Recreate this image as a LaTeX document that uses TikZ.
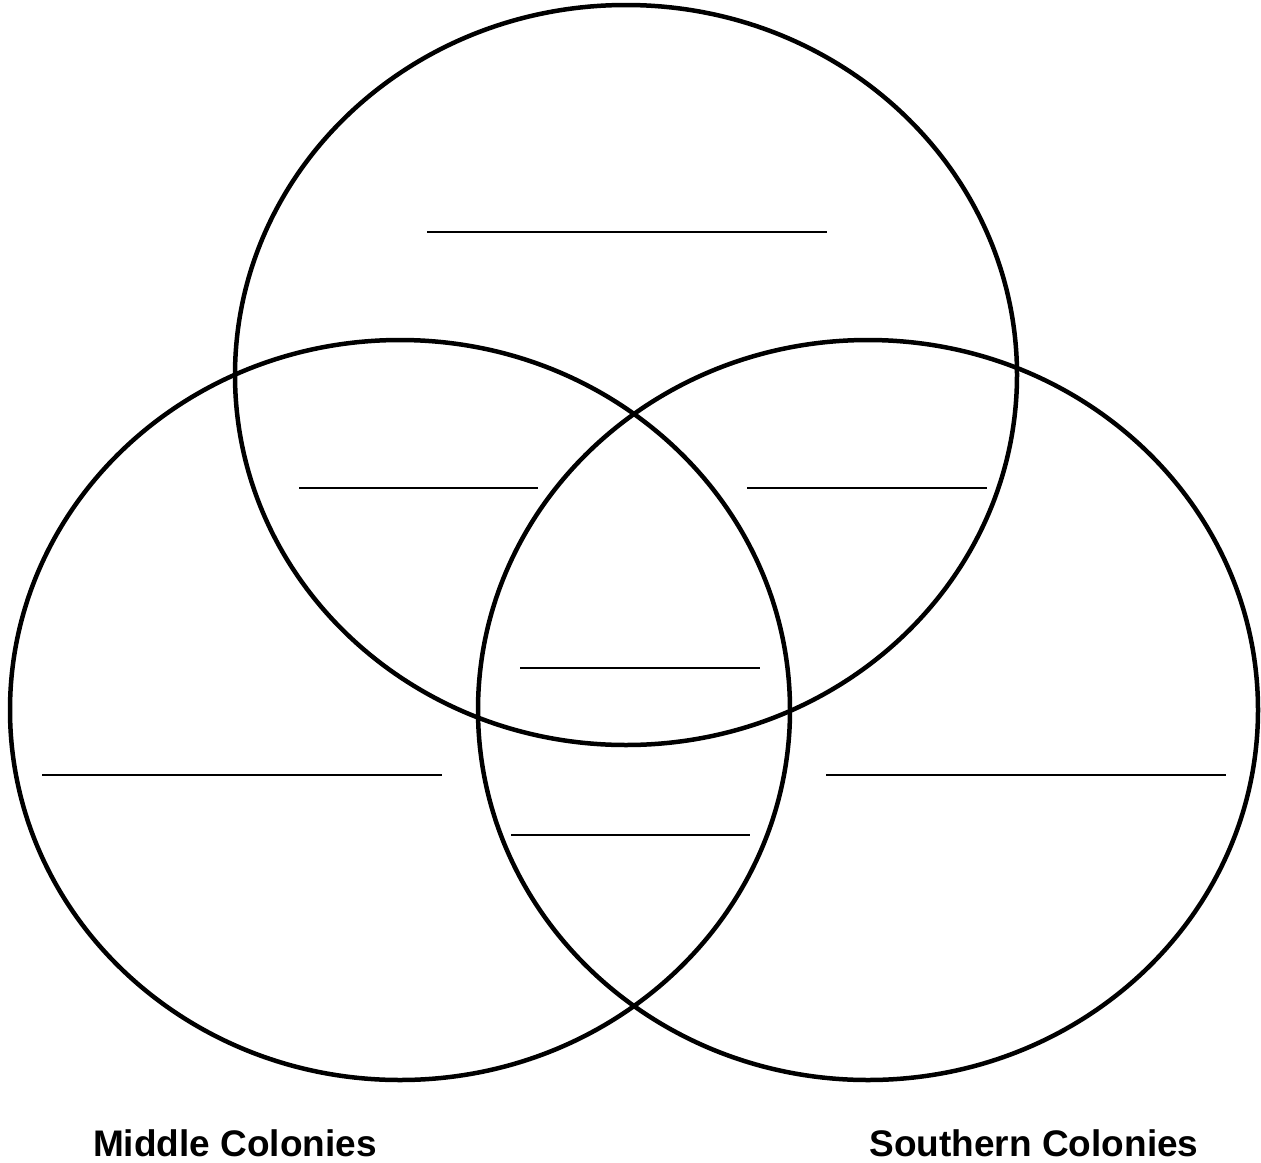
\documentclass[tikz,border=0pt]{standalone}
\usepackage{fontspec}
\setmainfont{Liberation Sans}
\begin{document}
\begin{tikzpicture}[x=1pt,y=-1pt,
  ring/.style={draw=black,line width=4.5pt},
  blank/.style={draw=black,line width=2.2pt},
  lbl/.style={font=\fontsize{37}{40}\selectfont\bfseries,inner sep=0pt}]
\useasboundingbox[fill=white] (0,0) rectangle (1261,1162);
\draw[ring] (626,375) ellipse [x radius=391, y radius=370];
\draw[ring] (400,710) ellipse [x radius=390, y radius=370];
\draw[ring] (868,710) ellipse [x radius=390, y radius=370];
\coordinate (t1) at (427,232); \coordinate (t2) at (827,232);
\coordinate (lm1) at (299,488); \coordinate (lm2) at (538,488);
\coordinate (rm1) at (747,488); \coordinate (rm2) at (987,488);
\coordinate (c1) at (520,668); \coordinate (c2) at (760,668);
\coordinate (b1) at (511,835); \coordinate (b2) at (750,835);
\coordinate (l1) at (42,775); \coordinate (l2) at (442,775);
\coordinate (r1) at (826,775); \coordinate (r2) at (1226,775);
\draw[blank] (t1) -- (t2);
\draw[blank] (lm1) -- (lm2);
\draw[blank] (rm1) -- (rm2);
\draw[blank] (c1) -- (c2);
\draw[blank] (b1) -- (b2);
\draw[blank] (l1) -- (l2);
\draw[blank] (r1) -- (r2);
\node[lbl] (mid) at (235,1143) {Middle Colonies};
\node[lbl] (south) at (1034,1143) {Southern Colonies};
\end{tikzpicture}
\end{document}
